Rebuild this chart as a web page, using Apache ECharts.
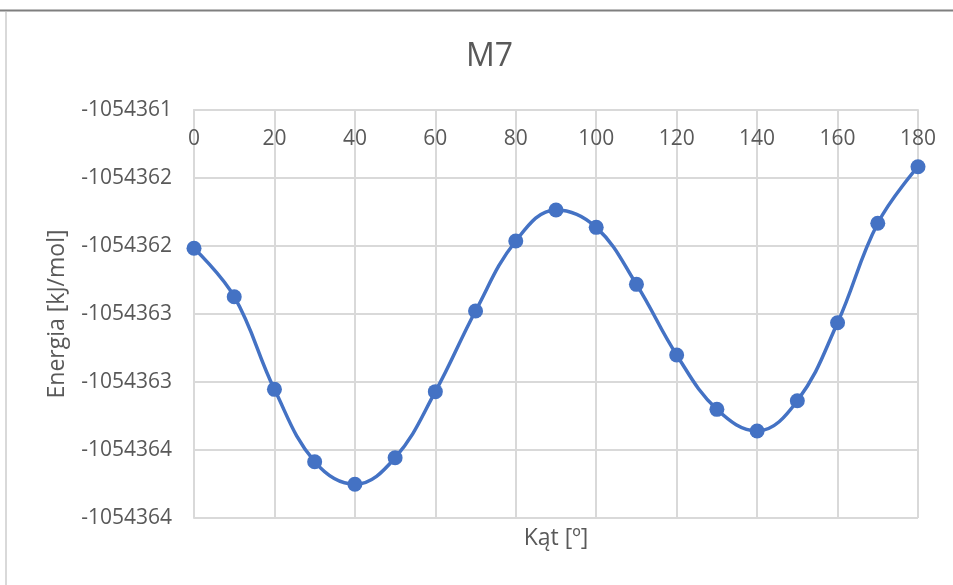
<!DOCTYPE html>
<html>
<head>
<meta charset="utf-8">
<script src="https://cdn.jsdelivr.net/npm/echarts@6/dist/echarts.min.js"></script>
<style>
  html, body { margin: 0; padding: 0; background: #fff; }
  #chart { width: 953px; height: 585px; }
</style>
</head>
<body>
<div id="chart"></div>
<script>
// kat skretny [stopnie]
var angles = [0, 10, 20, 30, 40, 50, 60, 70, 80, 90, 100, 110, 120, 130, 140, 150, 160, 170, 180];
// energia M7 [kJ/mol]
var energies = [
  -1054362.017, -1054362.373, -1054363.054, -1054363.586, -1054363.752,
  -1054363.557, -1054363.071, -1054362.478, -1054361.963, -1054361.735,
  -1054361.863, -1054362.282, -1054362.801, -1054363.201, -1054363.360,
  -1054363.138, -1054362.564, -1054361.833, -1054361.417
];
var chartTitle = 'M7';
var xName = 'Kąt [º]';
var yName = 'Energia [kJ/mol]';

var textColor = '#595959';
var gridColor = '#d9d9d9';
var font = '"Open Sans", "Noto Sans", sans-serif';

var points = [];
for (var i = 0; i < angles.length; i++) {
  points.push([angles[i], energies[i]]);
}

var myChart = echarts.init(document.getElementById('chart'));
var option = {
  backgroundColor: '#fff',
  animation: false,
  textStyle: { fontFamily: font },
  title: {
    text: chartTitle, left: 461, top: 36,
    textStyle: { color: textColor, fontSize: 32, fontWeight: 'normal', fontFamily: font }
  },
  grid: { left: 194, top: 110, right: 35, bottom: 67 },
  xAxis: [
    {
      type: 'value', position: 'top', min: 0, max: 180, interval: 20,
      axisLine: { show: true, onZero: false, lineStyle: { color: gridColor, width: 2 } },
      axisTick: { show: false },
      axisLabel: { inside: true, margin: 19, color: textColor, fontSize: 21, fontFamily: font },
      splitLine: { show: true, lineStyle: { color: gridColor, width: 2 } }
    },
    {
      type: 'value', position: 'bottom', min: 0, max: 180,
      name: xName, nameLocation: 'middle', nameGap: 9,
      nameTextStyle: { color: textColor, fontSize: 23, fontFamily: font },
      axisLine: { show: false }, axisTick: { show: false },
      axisLabel: { show: false }, splitLine: { show: false }
    }
  ],
  yAxis: {
    type: 'value', min: -1054364, max: -1054361, interval: 0.5,
    name: yName, nameLocation: 'middle', nameGap: 125,
    nameTextStyle: { color: textColor, fontSize: 23, fontFamily: font },
    axisLine: { show: true, lineStyle: { color: gridColor, width: 2 } },
    axisTick: { show: false },
    axisLabel: {
      margin: 22, color: textColor, fontSize: 21, fontFamily: font,
      formatter: function (v) { return '-' + Math.round(-v); }
    },
    splitLine: { show: true, lineStyle: { color: gridColor, width: 2 } }
  },
  graphic: [
    { type: 'line', shape: { x1: 0, y1: 10.5, x2: 953, y2: 10.5 }, style: { stroke: '#7f7f7f', lineWidth: 2 } },
    { type: 'line', shape: { x1: 6, y1: 12, x2: 6, y2: 585 }, style: { stroke: '#d9d9d9', lineWidth: 2 } }
  ],
  series: [{
    type: 'line',
    data: points,
    smooth: 0.4,
    symbol: 'circle',
    symbolSize: 15,
    lineStyle: { color: '#4472C4', width: 3.5 },
    itemStyle: { color: '#4472C4' }
  }]
};
myChart.setOption(option);
</script>
</body>
</html>
